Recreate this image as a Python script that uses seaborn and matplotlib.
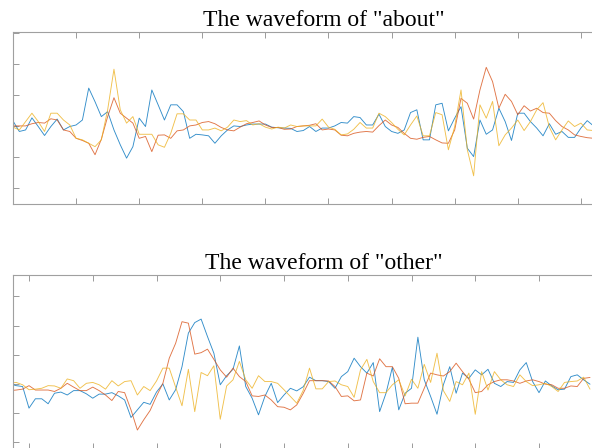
import numpy as np
import matplotlib
matplotlib.use("Agg")
import matplotlib.pyplot as plt
import seaborn as sns

# ---- data: top panel ("about"), samples 0..92 ----
about_blue = [0.16, -0.18, -0.13, 0.26, -0.02, -0.31, -0.02, 0.22, -0.13, -0.02,
              0.03, 0.19, 1.22, 0.78, 0.30, 0.46, -0.13, -0.61, -1.04, -0.67,
              0.25, -0.02, 1.16, 0.68, 0.19, 0.68, 0.68, 0.46, -0.40, -0.27,
              -0.29, -0.32, -0.56, -0.32, -0.13, 0.00, -0.02, 0.03, 0.06, 0.06,
              0.06, -0.04, -0.06, -0.07, -0.08, -0.18, -0.15, -0.02, -0.18, -0.07,
              -0.07, 0.00, 0.11, 0.09, 0.30, 0.27, 0.03, 0.03, 0.38, -0.02,
              -0.18, -0.24, -0.13, 0.43, 0.52, -0.45, -0.45, 0.68, 0.73, -0.16,
              0.25, 0.62, -0.72, -0.99, 0.19, -0.27, -0.13, 0.57, 0.14, -0.47,
              0.41, 0.41, 0.14, -0.07, -0.32, 0.07, -0.27, -0.18, -0.37, -0.37,
              -0.07, 0.17, 0.00]
about_red = [0.00, 0.00, 0.00, 0.07, 0.11, 0.09, 0.23, 0.19, -0.13, -0.18,
             -0.40, -0.47, -0.56, -0.93, -0.43, 0.30, 0.91, 0.41, 0.25, 0.09,
             -0.40, -0.34, -0.83, -0.30, -0.29, -0.40, -0.16, -0.13, 0.00, 0.03,
             0.11, 0.14, 0.07, -0.05, -0.13, -0.16, -0.04, 0.07, 0.11, 0.16,
             0.03, -0.05, -0.05, -0.11, -0.10, -0.02, 0.00, 0.02, 0.07, -0.13,
             -0.10, -0.13, -0.30, -0.32, -0.24, -0.20, -0.18, -0.20, 0.01, 0.19,
             0.03, -0.05, -0.24, -0.40, -0.43, -0.37, -0.34, -0.45, -0.55, -0.56,
             -0.13, 0.89, 0.73, 0.22, 1.16, 1.89, 1.43, 0.57, 1.02, 0.79,
             0.36, 0.65, 0.48, 0.57, 0.43, 0.41, 0.17, -0.02, -0.13, -0.29,
             -0.34, -0.38, -0.40]
about_yellow = [-0.04, -0.13, 0.14, 0.41, 0.14, -0.18, 0.41, 0.41, 0.19, 0.03,
                -0.40, -0.45, -0.56, -0.67, -0.45, 0.52, 1.83, 0.52, 0.09, 0.30,
                -0.27, -0.27, -0.27, -0.61, -0.69, -0.24, 0.39, 0.39, 0.19, 0.19,
                -0.13, -0.13, -0.07, -0.16, -0.04, 0.19, 0.14, 0.17, 0.03, 0.07,
                -0.04, -0.10, -0.04, -0.07, 0.03, -0.02, 0.00, 0.00, 0.00, 0.22,
                -0.04, -0.11, -0.29, -0.26, -0.11, 0.11, -0.07, -0.07, 0.41, 0.30,
                0.11, -0.11, -0.29, 0.03, 0.32, -0.32, -0.32, 0.43, 0.36, -0.77,
                -0.02, 1.16, -0.77, -1.61, 0.68, 0.25, 0.79, -0.64, -0.29, -0.07,
                0.19, -0.15, 0.14, 0.52, 0.75, -0.04, -0.45, -0.13, 0.16, -0.02,
                0.09, -0.13, -0.15]

# ---- data: bottom panel ("other"), samples 7..98 ----
other_blue = [0.00, -0.06, -0.09, -0.83, -0.51, -0.51, -0.68, -0.32, -0.28, -0.38,
              -0.23, -0.23, -0.34, -0.49, -0.35, -0.35, -0.30, -0.41, -0.55, -1.15,
              -0.89, -0.63, -0.70, -0.28, 0.00, -0.55, -0.20, 0.59, 1.74, 2.10,
              2.22, 1.62, 1.05, -0.03, 0.28, 0.50, 1.30, -0.09, -0.49, -1.06,
              -0.43, 0.02, -0.64, -0.38, -0.15, -0.24, -0.10, 0.23, 0.11, 0.11,
              0.08, -0.15, 0.25, 0.42, 0.88, 0.59, 0.37, 0.73, -0.95, -0.32,
              0.57, -0.89, -0.32, -0.15, 1.60, 0.14, -0.43, -1.04, -0.03, 0.59,
              -0.32, 0.37, 0.19, 0.48, 0.31, 0.50, 0.02, -0.09, 0.08, 0.05,
              0.48, 0.73, 0.08, -0.30, 0.10, -0.07, -0.20, -0.18, 0.25, 0.31,
              0.14, -0.01]
other_red = [-0.23, -0.21, -0.18, -0.06, -0.21, -0.21, -0.21, -0.26, -0.15, 0.02,
             -0.11, -0.23, -0.23, -0.11, -0.23, -0.38, -0.57, -0.26, -0.30, -0.89,
             -1.58, -1.23, -0.91, -0.42, 0.02, 0.88, 1.39, 2.13, 2.08, 1.02,
             1.07, 1.19, 0.84, 0.48, 0.23, 0.54, 0.25, 0.08, -0.41, -0.43,
             -0.38, -0.55, -0.78, -0.80, -0.89, -0.72, -0.33, 0.11, 0.11, 0.11,
             0.10, -0.09, -0.43, -0.41, -0.58, -0.55, 0.37, 0.27, 0.86, 0.59,
             0.59, 0.19, -0.68, -0.66, -0.66, -0.15, 0.37, 0.31, 0.27, 0.42,
             0.71, 0.42, 0.16, -0.30, -0.26, -0.03, 0.08, 0.14, 0.14, 0.10,
             0.02, 0.10, 0.14, 0.08, -0.01, -0.03, -0.15, -0.15, -0.07, -0.09,
             0.19, 0.22]
other_yellow = [0.02, 0.05, -0.03, -0.20, -0.18, -0.15, -0.06, -0.07, -0.15, 0.17,
                0.11, -0.15, 0.02, 0.05, -0.03, -0.18, 0.11, -0.07, 0.08, 0.11,
                -0.38, -0.09, -0.23, 0.10, 0.54, 0.54, -0.11, -0.75, 0.50, -0.95,
                0.39, 0.28, 0.62, -1.21, -0.07, 0.14, 0.77, 0.14, -0.15, 0.28,
                0.08, 0.08, 0.02, -0.20, -0.43, -0.66, -0.23, 0.54, -0.17, -0.17,
                0.08, 0.10, -0.03, -0.09, -0.46, 0.48, 0.84, 0.08, -0.30, -0.30,
                -0.03, 0.14, -0.41, 0.16, -0.15, 0.67, 0.05, 1.05, -0.23, -0.60,
                0.08, -0.03, 0.37, -1.04, 0.42, -0.21, 0.42, 0.14, -0.03, -0.09,
                0.31, 0.08, -0.06, -0.03, 0.02, -0.09, -0.26, 0.05, 0.08, 0.10,
                0.23, -0.18]

titles = ['The waveform of "about"', 'The waveform of "other"']
colors = ['#0072BD', '#D95319', '#EDB120']

sns.set_style("white")
W, H = 592, 448
AX_W = 622  # axes continue past the right edge of the (cropped) figure
fig = plt.figure(figsize=(W / 100, H / 100), dpi=100)
ax1 = fig.add_axes([13 / W, (H - 204) / H, AX_W / W, 172 / H])
ax2 = fig.add_axes([13 / W, (H - 449) / H, AX_W / W, 174 / H])

x_top = np.arange(len(about_blue))
x_bot = np.arange(7, 7 + len(other_blue))

for ys, c in zip([about_blue, about_red, about_yellow], colors):
    sns.lineplot(x=x_top, y=ys, ax=ax1, color=c, linewidth=0.65, alpha=0.8)
for ys, c in zip([other_blue, other_red, other_yellow], colors):
    sns.lineplot(x=x_bot, y=ys, ax=ax2, color=c, linewidth=0.65, alpha=0.8)

ax1.set_xlim(0, AX_W / 6.31)
ax1.set_ylim(-2.52, 3.03)
ax2.set_xlim(7.49, 7.49 + AX_W / 6.375)
ax2.set_ylim(-2.23, 3.73)
ax1.set_xticks(range(0, 100, 10))
ax2.set_xticks(range(10, 110, 10))

for ax, t in zip([ax1, ax2], titles):
    ax.set_yticks(range(-2, 4))
    ax.tick_params(direction='in', length=4, width=0.7, color='#9a9a9a',
                   top=True, right=True, bottom=True, left=True,
                   labelbottom=False, labelleft=False)
    for s in ax.spines.values():
        s.set_color('#a0a0a0')
        s.set_linewidth(0.8)
    ax.set_title(t, fontfamily='Liberation Serif', fontsize=17, pad=4.3, color='black')

fig.savefig("out.png", dpi=100)
